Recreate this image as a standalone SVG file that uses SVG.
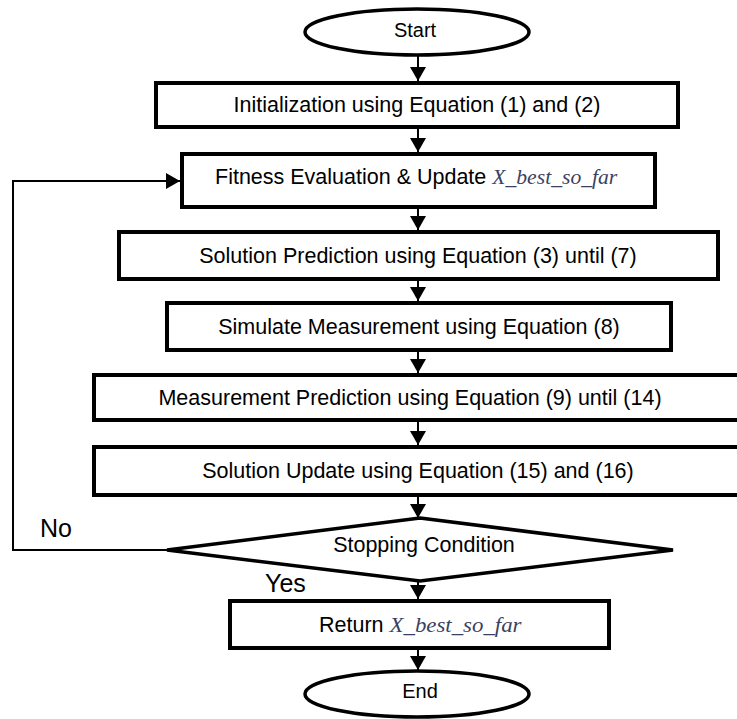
<svg xmlns="http://www.w3.org/2000/svg" width="737" height="719" viewBox="0 0 737 719">
<defs>
<style>
.box{fill:#fff;stroke:#000;stroke-width:4}
.term{fill:#fff;stroke:#000;stroke-width:3.5}
.t{font-family:"Liberation Sans",Arial,sans-serif;font-size:21.5px;fill:#000;text-anchor:middle}
.ts{font-family:"Liberation Sans",Arial,sans-serif;font-size:21.5px;fill:#000}
.var{font-family:"Liberation Serif","Times New Roman",serif;font-style:italic;fill:#3b3f63}
.lbl{font-family:"Liberation Sans",Arial,sans-serif;font-size:25px;fill:#000}
.c{fill:none;stroke:#000;stroke-width:2;marker-end:url(#ah)}
.cl{fill:none;stroke:#000;stroke-width:2}
</style>
<marker id="ah" markerUnits="userSpaceOnUse" markerWidth="14" markerHeight="16" refX="14" refY="8" orient="auto">
<path d="M0,0 L14,8 L0,16 z" fill="#000"/>
</marker>
</defs>
<rect width="737" height="719" fill="#fff"/>
<g id="connectors">
<path class="c" d="M418,56 V81"/>
<path class="c" d="M418,129 V152"/>
<path class="c" d="M418,209 V230"/>
<path class="c" d="M418,281 V301"/>
<path class="c" d="M418,352 V373"/>
<path class="c" d="M418,422 V445"/>
<path class="c" d="M418,497 V518"/>
<path class="c" d="M418,581 V599"/>
<path class="c" d="M418,650 V670"/>
<path class="c" d="M167,550 H13 V181 H180"/>
</g>
<g id="start">
<ellipse class="term" cx="417" cy="32" rx="112" ry="23"/>
<text class="t" x="415" y="37" style="font-size:20px">Start</text>
</g>
<g id="init">
<rect class="box" x="156" y="83" width="522" height="44"/>
<text class="t" x="417" y="112">Initialization using Equation (1) and (2)</text>
</g>
<g id="fitness">
<rect class="box" x="182" y="154" width="473" height="53"/>
<text class="ts" x="215" y="184">Fitness Evaluation &amp; Update <tspan class="var" textLength="125" lengthAdjust="spacingAndGlyphs">X_best_so_far</tspan></text>
</g>
<g id="solpred">
<rect class="box" x="119" y="232" width="599" height="47"/>
<text class="t" x="418" y="263">Solution Prediction using Equation (3) until (7)</text>
</g>
<g id="simulate">
<rect class="box" x="167" y="303" width="504" height="47"/>
<text class="t" x="419" y="334">Simulate Measurement using Equation (8)</text>
</g>
<g id="measpred">
<rect class="box" x="94" y="375" width="660" height="45"/>
<text class="t" x="410" y="405">Measurement Prediction using Equation (9) until (14)</text>
</g>
<g id="solupdate">
<rect class="box" x="94" y="447" width="660" height="48"/>
<text class="t" x="418" y="478">Solution Update using Equation (15) and (16)</text>
</g>
<g id="stopping">
<polygon class="term" points="420,518 673,550 420,581 167,550"/>
<text class="t" x="424" y="552">Stopping Condition</text>
</g>
<g id="labels">
<text class="lbl" x="40" y="537">No</text>
<text class="lbl" x="265" y="592">Yes</text>
</g>
<g id="return">
<rect class="box" x="230" y="601" width="379" height="47"/>
<text class="ts" x="319" y="632">Return <tspan class="var" textLength="132" lengthAdjust="spacingAndGlyphs">X_best_so_far</tspan></text>
</g>
<g id="end">
<ellipse class="term" cx="417" cy="694" rx="112" ry="23"/>
<text class="t" x="420" y="698" style="font-size:20px">End</text>
</g>
</svg>
